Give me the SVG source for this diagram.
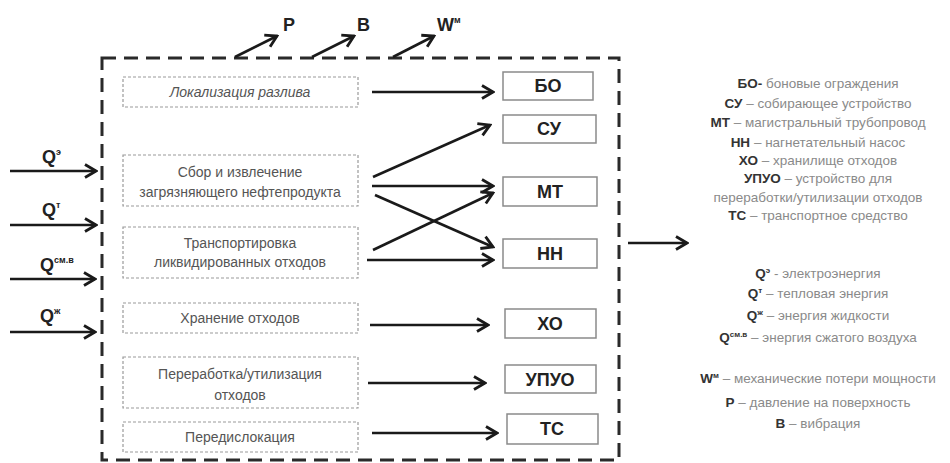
<svg xmlns="http://www.w3.org/2000/svg" width="950" height="463" viewBox="0 0 950 463">
<style>
.outer{fill:none;stroke:#2a2a2a;stroke-width:3;stroke-dasharray:14 8}
.proc{fill:none;stroke:#9a9a9a;stroke-width:1.2;stroke-dasharray:3 2}
.ptxt{font-family:"Liberation Sans",Arial,sans-serif;font-size:14px;fill:#555;text-anchor:middle}
.node{fill:#fff;stroke:#8a8a8a;stroke-width:1.5}
.ntxt{font-family:"Liberation Sans",Arial,sans-serif;font-size:18px;font-weight:bold;fill:#222;text-anchor:middle}
.con{fill:none;stroke:#1a1a1a;stroke-width:2.6;marker-end:url(#ah)}
.lbl{font-family:"Liberation Sans",Arial,sans-serif;font-size:18px;font-weight:bold;fill:#222}
.sup{font-size:9px}
.leg{font-family:"Liberation Sans",Arial,sans-serif;font-size:13.5px;fill:#8a8a8a;text-anchor:middle}
.leg .ab{font-weight:bold;fill:#333}
</style>
<defs>
<marker id="ah" viewBox="-13 -8 15 16" markerWidth="15" markerHeight="16" refX="0" refY="0" orient="auto" markerUnits="userSpaceOnUse">
<path d="M-11,-6.5 L0,0 L-11,6.5" fill="none" stroke="#1a1a1a" stroke-width="2.8"/>
</marker>
</defs>
<rect width="950" height="463" fill="#fff"/>
<rect class="outer" x="102" y="58" width="517" height="402"/>

<g id="proc-localization">
<rect class="proc" x="123" y="77" width="235" height="30"/>
<text class="ptxt" x="240" y="97" font-style="italic">Локализация разлива</text>
</g>
<g id="proc-collection">
<rect class="proc" x="123" y="155" width="235" height="51"/>
<text class="ptxt" x="240" y="177">Сбор и извлечение</text>
<text class="ptxt" x="240" y="197">загрязняющего нефтепродукта</text>
</g>
<g id="proc-transport">
<rect class="proc" x="123" y="227" width="235" height="51"/>
<text class="ptxt" x="240" y="248">Транспортировка</text>
<text class="ptxt" x="240" y="267">ликвидированных отходов</text>
</g>
<g id="proc-storage">
<rect class="proc" x="123" y="303" width="235" height="30"/>
<text class="ptxt" x="240" y="323">Хранение отходов</text>
</g>
<g id="proc-processing">
<rect class="proc" x="123" y="357" width="235" height="51"/>
<text class="ptxt" x="240" y="379">Переработка/утилизация</text>
<text class="ptxt" x="240" y="400">отходов</text>
</g>
<g id="proc-relocation">
<rect class="proc" x="123" y="422" width="235" height="30"/>
<text class="ptxt" x="240" y="442">Передислокация</text>
</g>

<g id="node-BO"><rect class="node" x="503" y="72" width="90" height="28"/><text class="ntxt" x="548" y="92">БО</text></g>
<g id="node-SU"><rect class="node" x="503" y="115" width="93" height="28"/><text class="ntxt" x="549" y="135">СУ</text></g>
<g id="node-MT"><rect class="node" x="503" y="177" width="94" height="29"/><text class="ntxt" x="550" y="198">МТ</text></g>
<g id="node-NN"><rect class="node" x="503" y="239" width="94" height="29"/><text class="ntxt" x="550" y="260">НН</text></g>
<g id="node-XO"><rect class="node" x="505" y="309" width="91" height="29"/><text class="ntxt" x="550" y="330">ХО</text></g>
<g id="node-UPUO"><rect class="node" x="505" y="365" width="91" height="28"/><text class="ntxt" x="550" y="386">УПУО</text></g>
<g id="node-TS"><rect class="node" x="507" y="414" width="91" height="30"/><text class="ntxt" x="552" y="435">ТС</text></g>

<g id="connectors">
<line class="con" x1="372" y1="92" x2="493" y2="92"/>
<line class="con" x1="373" y1="177" x2="490" y2="125"/>
<line class="con" x1="372" y1="186" x2="493" y2="186"/>
<line class="con" x1="375" y1="195" x2="493" y2="247"/>
<line class="con" x1="373" y1="250" x2="493" y2="193"/>
<line class="con" x1="367" y1="260" x2="493" y2="260"/>
<line class="con" x1="370" y1="325" x2="488" y2="325"/>
<line class="con" x1="368" y1="383" x2="485" y2="383"/>
<line class="con" x1="372" y1="433" x2="497" y2="433"/>
<line class="con" x1="10" y1="171" x2="96" y2="171"/>
<line class="con" x1="10" y1="225" x2="96" y2="225"/>
<line class="con" x1="10" y1="279" x2="95" y2="279"/>
<line class="con" x1="10" y1="332" x2="95" y2="332"/>
<line class="con" x1="235" y1="57" x2="277" y2="36"/>
<line class="con" x1="312" y1="57" x2="354" y2="36"/>
<line class="con" x1="393" y1="57" x2="434" y2="36"/>
<line class="con" x1="628" y1="243" x2="687" y2="243"/>
</g>

<g id="labels">
<text class="lbl" x="42" y="163">Q<tspan class="sup" dy="-8">э</tspan></text>
<text class="lbl" x="42" y="216">Q<tspan class="sup" dy="-8">т</tspan></text>
<text class="lbl" x="40" y="271">Q<tspan class="sup" dy="-8">см.в</tspan></text>
<text class="lbl" x="40" y="322">Q<tspan class="sup" dy="-8">ж</tspan></text>
<text class="lbl" x="283" y="31">P</text>
<text class="lbl" x="357" y="31">B</text>
<text class="lbl" x="437" y="31">W<tspan class="sup" dy="-8">м</tspan></text>
</g>

<g id="legend">
<text class="leg" x="818" y="88"><tspan class="ab">БО-</tspan> боновые ограждения</text>
<text class="leg" x="818" y="108"><tspan class="ab">СУ</tspan> – собирающее устройство</text>
<text class="leg" x="818" y="127"><tspan class="ab">МТ</tspan> – магистральный трубопровод</text>
<text class="leg" x="818" y="147"><tspan class="ab">НН</tspan> – нагнетательный насос</text>
<text class="leg" x="818" y="165"><tspan class="ab">ХО</tspan> – хранилище отходов</text>
<text class="leg" x="818" y="183"><tspan class="ab">УПУО</tspan> – устройство для</text>
<text class="leg" x="818" y="202">переработки/утилизации отходов</text>
<text class="leg" x="818" y="220"><tspan class="ab">ТС</tspan> – транспортное средство</text>
<text class="leg" x="818" y="278"><tspan class="ab">Q<tspan font-size="8" dy="-5">э</tspan></tspan><tspan dy="5"> - электроэнергия</tspan></text>
<text class="leg" x="818" y="298"><tspan class="ab">Q<tspan font-size="8" dy="-5">т</tspan></tspan><tspan dy="5"> – тепловая энергия</tspan></text>
<text class="leg" x="818" y="320"><tspan class="ab">Q<tspan font-size="8" dy="-5">ж</tspan></tspan><tspan dy="5"> – энергия жидкости</tspan></text>
<text class="leg" x="818" y="342"><tspan class="ab">Q<tspan font-size="8" dy="-5">см.в</tspan></tspan><tspan dy="5"> – энергия сжатого воздуха</tspan></text>
<text class="leg" x="818" y="383"><tspan class="ab">W<tspan font-size="8" dy="-5">м</tspan></tspan><tspan dy="5"> – механические потери мощности</tspan></text>
<text class="leg" x="818" y="407"><tspan class="ab">Р</tspan> – давление на поверхность</text>
<text class="leg" x="818" y="428"><tspan class="ab">В</tspan> – вибрация</text>
</g>
</svg>
